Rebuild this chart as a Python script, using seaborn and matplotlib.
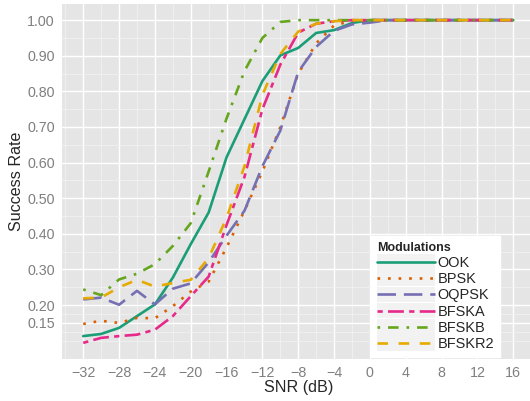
import numpy as np
import pandas as pd
import matplotlib
matplotlib.use('Agg')
import matplotlib.pyplot as plt
import seaborn as sns
from matplotlib.lines import Line2D
from matplotlib.patches import Rectangle
from matplotlib.legend_handler import HandlerLine2D

# SNR sweep (dB)
snr = list(range(-32, 17, 2))

# success rate per modulation
ook = [0.113, 0.119, 0.136, 0.169, 0.202, 0.277, 0.371, 0.460, 0.615, 0.722, 0.829,
       0.901, 0.922, 0.964, 0.972, 0.992, 1.0, 1.0, 1.0, 1.0, 1.0, 1.0, 1.0, 1.0, 1.0]
bpsk = [0.147, 0.156, 0.150, 0.164, 0.163, 0.197, 0.238, 0.266, 0.362, 0.465, 0.575,
        0.700, 0.850, 0.935, 0.985, 0.998, 1.0, 1.0, 1.0, 1.0, 1.0, 1.0, 1.0, 1.0, 1.0]
oqpsk = [0.216, 0.221, 0.201, 0.240, 0.202, 0.246, 0.261, 0.320, 0.395, 0.465, 0.590,
         0.690, 0.855, 0.925, 0.970, 0.988, 0.993, 1.0, 1.0, 1.0, 1.0, 1.0, 1.0, 1.0, 1.0]
bfska = [0.094, 0.108, 0.113, 0.117, 0.131, 0.169, 0.225, 0.280, 0.425, 0.560, 0.750,
         0.875, 0.965, 0.990, 0.997, 1.0, 1.0, 1.0, 1.0, 1.0, 1.0, 1.0, 1.0, 1.0, 1.0]
bfskb = [0.244, 0.228, 0.272, 0.288, 0.315, 0.366, 0.430, 0.575, 0.724, 0.857, 0.950,
         0.995, 1.0, 1.0, 1.0, 1.0, 1.0, 1.0, 1.0, 1.0, 1.0, 1.0, 1.0, 1.0, 1.0]
bfskr2 = [0.219, 0.221, 0.250, 0.271, 0.252, 0.262, 0.271, 0.332, 0.445, 0.590, 0.790,
          0.905, 0.968, 0.990, 0.997, 1.0, 1.0, 1.0, 1.0, 1.0, 1.0, 1.0, 1.0, 1.0, 1.0]

modulations = ['OOK', 'BPSK', 'OQPSK', 'BFSKA', 'BFSKB', 'BFSKR2']
colors = ['#1B9E77', '#D95F02', '#7570B3', '#E7298A', '#66A61E', '#E6AB02']
dash_styles = ['', (1, 3), (7, 3), (2, 2, 6, 2), (1, 3, 4, 3), (4, 4)]

ytick_vals = [0.15, 0.2, 0.3, 0.4, 0.5, 0.6, 0.7, 0.8, 0.9, 1.0]
xtick_vals = list(range(-32, 17, 4))

df = pd.DataFrame({
    'SNR': snr * 6,
    'rate': ook + bpsk + oqpsk + bfska + bfskb + bfskr2,
    'Modulations': sum([[m] * len(snr) for m in modulations], []),
})


# ggplot-like legend key: grey box behind a slightly inset line
class KeyHandler(HandlerLine2D):
    def create_artists(self, legend, orig_handle, xdescent, ydescent,
                       width, height, fontsize, trans):
        arts = super().create_artists(legend, orig_handle, xdescent, ydescent,
                                      width, height, fontsize, trans)
        inset = 0.1 * width
        for a in arts:
            xd = list(a.get_xdata())
            if len(xd) == 2:
                a.set_xdata([xd[0] + inset, xd[1] - inset])
        gap = legend.labelspacing * fontsize
        box_h = 15.6 * 72 / 100
        yc = -ydescent + height / 2
        r = Rectangle((-xdescent, yc - box_h / 2), width, box_h,
                      facecolor='#F2F2F2', edgecolor='none', transform=trans)
        return [r] + arts


sns.set_style('whitegrid')
plt.rcParams['font.family'] = ['Liberation Sans', 'DejaVu Sans']

fig = plt.figure(figsize=(5.30, 4.01), dpi=100)
ax = fig.add_axes([61.7 / 530, 1 - 359 / 401, (534.8 - 61.7) / 530, (359 - 4) / 401])
ax.set_facecolor('#E5E5E5')

sns.lineplot(data=df, x='SNR', y='rate', hue='Modulations', style='Modulations',
             palette=dict(zip(modulations, colors)),
             dashes=dict(zip(modulations, dash_styles)),
             linewidth=1.9, ax=ax)

ax.set_xlim(-34.4, 18.4)
ax.set_ylim(0.0487, 1.0453)
ax.set_xticks(xtick_vals)
ax.set_xticklabels(['\u2212%d' % -v if v < 0 else str(v) for v in xtick_vals])
ax.set_yticks(ytick_vals)
ax.set_yticklabels(['%.2f' % v for v in ytick_vals])
ax.set_xticks(list(range(-34, 17, 4)), minor=True)
ax.set_yticks([0.10, 0.125, 0.175] + [0.25 + 0.1 * i for i in range(8)], minor=True)

ax.grid(which='major', color='white', linewidth=1.0)
ax.grid(which='minor', color='#F2F2F2', linewidth=0.6)
ax.set_axisbelow(True)
for s in ax.spines.values():
    s.set_visible(False)
ax.tick_params(which='major', length=3, width=0.8, color='#7F7F7F',
               labelcolor='#7F7F7F', labelsize=10.3, pad=2)
ax.tick_params(which='minor', length=0)

ax.set_xlabel('SNR (dB)', fontsize=11.6, labelpad=0)
ax.set_ylabel('Success Rate', fontsize=11.6, labelpad=2)

leg = ax.legend(title='Modulations', loc='upper left',
                bbox_to_anchor=(370.7 / 530, 1 - 236 / 401), bbox_transform=fig.transFigure,
                frameon=True, fancybox=False, facecolor='white', edgecolor='white',
                framealpha=1, fontsize=10.45, handlelength=4.0, handletextpad=0.2,
                labelspacing=0.15, borderpad=0.41, borderaxespad=0,
                handler_map={Line2D: KeyHandler()},
                title_fontproperties={'weight': 'bold', 'size': 9})
leg._legend_box.align = 'left'

fig.savefig('out.png', dpi=100)
